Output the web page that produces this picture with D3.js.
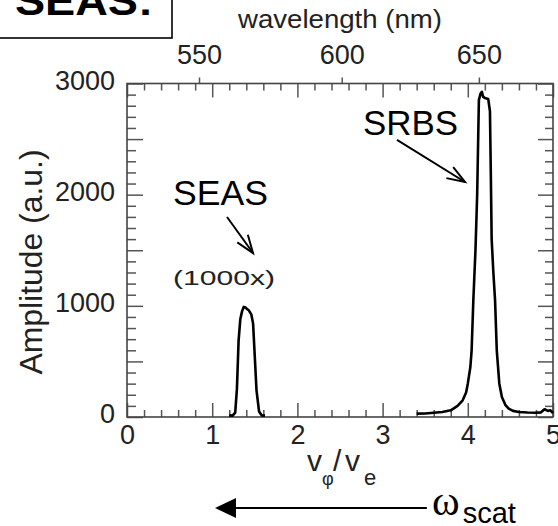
<!DOCTYPE html>
<html><head><meta charset="utf-8">
<script src="https://cdn.jsdelivr.net/npm/d3@7"></script>
<style>html,body{margin:0;padding:0;background:#fff;} svg{display:block;}</style>
</head><body><svg id="c" width="558" height="526"></svg>
<script>
// ---- data ----
const seasX = [1.20, 1.24, 1.27, 1.29, 1.31, 1.33, 1.35, 1.37, 1.39, 1.41, 1.43, 1.46, 1.48, 1.50, 1.52, 1.55, 1.58, 1.62];
const seasY = [15, 12, 40, 250, 690, 880, 950, 990, 985, 970, 960, 920, 840, 540, 240, 50, 15, 12];
const srbsX = [3.40, 3.50, 3.60, 3.70, 3.80, 3.88, 3.94, 3.98, 4.00, 4.03, 4.045, 4.065, 4.09, 4.11, 4.13, 4.15, 4.165, 4.18, 4.20, 4.24, 4.26, 4.27, 4.28, 4.30, 4.32, 4.34, 4.37, 4.40, 4.44, 4.48, 4.53, 4.60, 4.70, 4.80, 4.86, 4.90, 4.94, 4.97, 5.00];
const srbsY = [30, 32, 38, 45, 60, 100, 150, 220, 300, 450, 600, 1050, 1500, 2000, 2850, 2910, 2925, 2880, 2870, 2860, 2750, 2200, 1600, 1300, 1050, 600, 300, 180, 110, 75, 55, 45, 40, 38, 42, 70, 55, 60, 35];
const xTickValues = [0, 1, 2, 3, 4, 5];
const yTickValues = [0, 1000, 2000, 3000];
const wavelengthTicks = [550, 600, 650];
const wavelengthAt = [0.845, 2.52, 4.13];   // position of each wavelength on the v_phi/v_e axis

// ---- setup ----
const svg = d3.select('#c');
const FONT = '"Liberation Sans", Arial, Helvetica, sans-serif';
const tickColor = '#555', labelColor = '#222';
const x = d3.scaleLinear().domain([0, 5]).range([127, 553]);
const y = d3.scaleLinear().domain([0, 3000]).range([417, 83.5]);
const wl = d3.scaleLinear().domain(wavelengthTicks).range(wavelengthAt.map(v => x(v)));

const isInt = v => Math.abs(v - Math.round(v)) < 1e-6;
const minorX = x.ticks(25).filter(v => !isInt(v));
const midY = y.ticks(6).filter(v => v % 1000 !== 0);
const minorY = y.ticks(30).filter(v => v % 500 !== 0);

function axisG(axis, tr, fs) {
  const g = svg.append('g').attr('transform', tr).call(axis);
  g.select('.domain').remove();
  g.attr('font-family', FONT).attr('font-size', fs || 27);
  g.selectAll('line').attr('stroke', tickColor).attr('stroke-width', 1.5);
  g.selectAll('text').attr('fill', labelColor);
  return g;
}

// bottom
axisG(d3.axisBottom(x).tickValues(xTickValues).tickSize(-14).tickPadding(8).tickFormat(d3.format('d')), `translate(0,${y(0)})`);
axisG(d3.axisBottom(x).tickValues(minorX).tickSize(-7).tickFormat(''), `translate(0,${y(0)})`);
// top (mirror)
axisG(d3.axisTop(x).tickValues(xTickValues).tickSize(-14).tickFormat(''), `translate(0,${y(3000)})`);
axisG(d3.axisTop(x).tickValues(minorX).tickSize(-7).tickFormat(''), `translate(0,${y(3000)})`);
// top wavelength
axisG(d3.axisTop(wl).tickValues(wavelengthTicks).tickSize(6).tickPadding(14).tickFormat(d3.format('d')), `translate(0,${y(3000)})`);
// left
const gl = axisG(d3.axisLeft(y).tickValues(yTickValues).tickSize(-16).tickPadding(12).tickFormat(d3.format('d')), `translate(${x(0)},0)`);
gl.selectAll('text').attr('dy', '0.22em');
axisG(d3.axisLeft(y).tickValues(midY).tickSize(-16).tickFormat(''), `translate(${x(0)},0)`);
axisG(d3.axisLeft(y).tickValues(minorY).tickSize(-9).tickFormat(''), `translate(${x(0)},0)`);
// right (mirror)
axisG(d3.axisRight(y).tickValues(yTickValues.concat(midY)).tickSize(-15).tickFormat(''), `translate(${x(5)},0)`);
axisG(d3.axisRight(y).tickValues(minorY).tickSize(-8).tickFormat(''), `translate(${x(5)},0)`);

// frame
svg.append('rect').attr('x', x(0)).attr('y', y(3000)).attr('width', x(5) - x(0)).attr('height', y(0) - y(3000))
  .attr('fill', 'none').attr('stroke', '#444').attr('stroke-width', 1.6);

// data lines
const line = d3.line().x(d => x(d[0])).y(d => y(d[1]));
[[seasX, seasY], [srbsX, srbsY]].forEach(([xs, ys]) => {
  svg.append('path').datum(xs.map((v, i) => [v, ys[i]])).attr('d', line)
    .attr('fill', 'none').attr('stroke', '#000').attr('stroke-width', 2.6).attr('stroke-linejoin', 'round');
});

// axis titles
svg.append('text').attr('x', 340).attr('y', 28).attr('text-anchor', 'middle')
  .attr('font-family', FONT).attr('font-size', 26).attr('fill', labelColor)
  .attr('textLength', 204).attr('lengthAdjust', 'spacingAndGlyphs').text('wavelength (nm)');
svg.append('text').attr('transform', 'translate(42,262) rotate(-90)').attr('text-anchor', 'middle')
  .attr('font-family', FONT).attr('font-size', 32).attr('fill', labelColor)
  .attr('textLength', 225).attr('lengthAdjust', 'spacingAndGlyphs').text('Amplitude (a.u.)');
const xl = svg.append('g').attr('font-family', FONT).attr('fill', labelColor);
xl.append('text').attr('x', 307).attr('y', 471).attr('font-size', 30).text('v');
xl.append('text').attr('x', 322).attr('y', 485).attr('font-size', 18).text('φ');
xl.append('text').attr('x', 333).attr('y', 471).attr('font-size', 30).text('/');
xl.append('text').attr('x', 345).attr('y', 471).attr('font-size', 30).text('v');
xl.append('text').attr('x', 364).attr('y', 485).attr('font-size', 22).text('e');

// annotations (data units)
const annot = [
  {t: 'SRBS', x: 2.77, y: 2537, fs: 35, len: 95},
  {t: 'SEAS', x: 0.54, y: 1907, fs: 35, len: 95},
  {t: '(1000x)', x: 0.54, y: 1187, fs: 21, len: 102, c: '#222'}
];
annot.forEach(a => svg.append('text').attr('x', x(a.x)).attr('y', y(a.y)).attr('font-family', FONT)
  .attr('font-size', a.fs).attr('fill', a.c || '#000').attr('textLength', a.len).attr('lengthAdjust', 'spacingAndGlyphs').text(a.t));

const arrows = [
  {x1: 3.169, y1: 2492, x2: 3.967, y2: 2114},
  {x1: 1.174, y1: 1799, x2: 1.479, y2: 1475}
];
arrows.forEach(a => {
  const X1 = x(a.x1), Y1 = y(a.y1), X2 = x(a.x2), Y2 = y(a.y2);
  const ang = Math.atan2(Y2 - Y1, X2 - X1), L = 19, h = 20 * Math.PI / 180;
  svg.append('line').attr('x1', X1).attr('y1', Y1).attr('x2', X2).attr('y2', Y2).attr('stroke', '#000').attr('stroke-width', 2);
  const p = [[X2 - L * Math.cos(ang - h), Y2 - L * Math.sin(ang - h)], [X2, Y2], [X2 - L * Math.cos(ang + h), Y2 - L * Math.sin(ang + h)]];
  svg.append('path').attr('d', d3.line()(p)).attr('fill', 'none').attr('stroke', '#000').attr('stroke-width', 2);
});

// omega_scat arrow below the axis
const ay = 508;
svg.append('line').attr('x1', x(1.28)).attr('y1', ay).attr('x2', x(3.52)).attr('y2', ay).attr('stroke', '#000').attr('stroke-width', 2);
svg.append('path').attr('d', d3.line()([[x(1.033), ay], [x(1.033) + 21, ay - 10], [x(1.033) + 21, ay + 10]]) + 'Z').attr('fill', '#000');
svg.append('text').attr('x', x(3.58)).attr('y', 515).attr('font-family', '"Liberation Serif", "Times New Roman", serif')
  .attr('font-size', 42).attr('fill', '#000').text('ω');
svg.append('text').attr('x', x(3.94)).attr('y', 523).attr('font-family', FONT).attr('font-size', 29).attr('fill', '#000').text('scat');

// title box
svg.append('rect').attr('x', -2).attr('y', -2).attr('width', 174).attr('height', 40).attr('fill', '#fff').attr('stroke', '#000').attr('stroke-width', 1.6);
svg.append('text').attr('x', 15).attr('y', 15).attr('font-family', FONT).attr('font-weight', 'bold')
  .attr('font-size', 40).attr('fill', '#000').attr('textLength', 138).attr('lengthAdjust', 'spacingAndGlyphs').text('SEAS:');
</script></body></html>
